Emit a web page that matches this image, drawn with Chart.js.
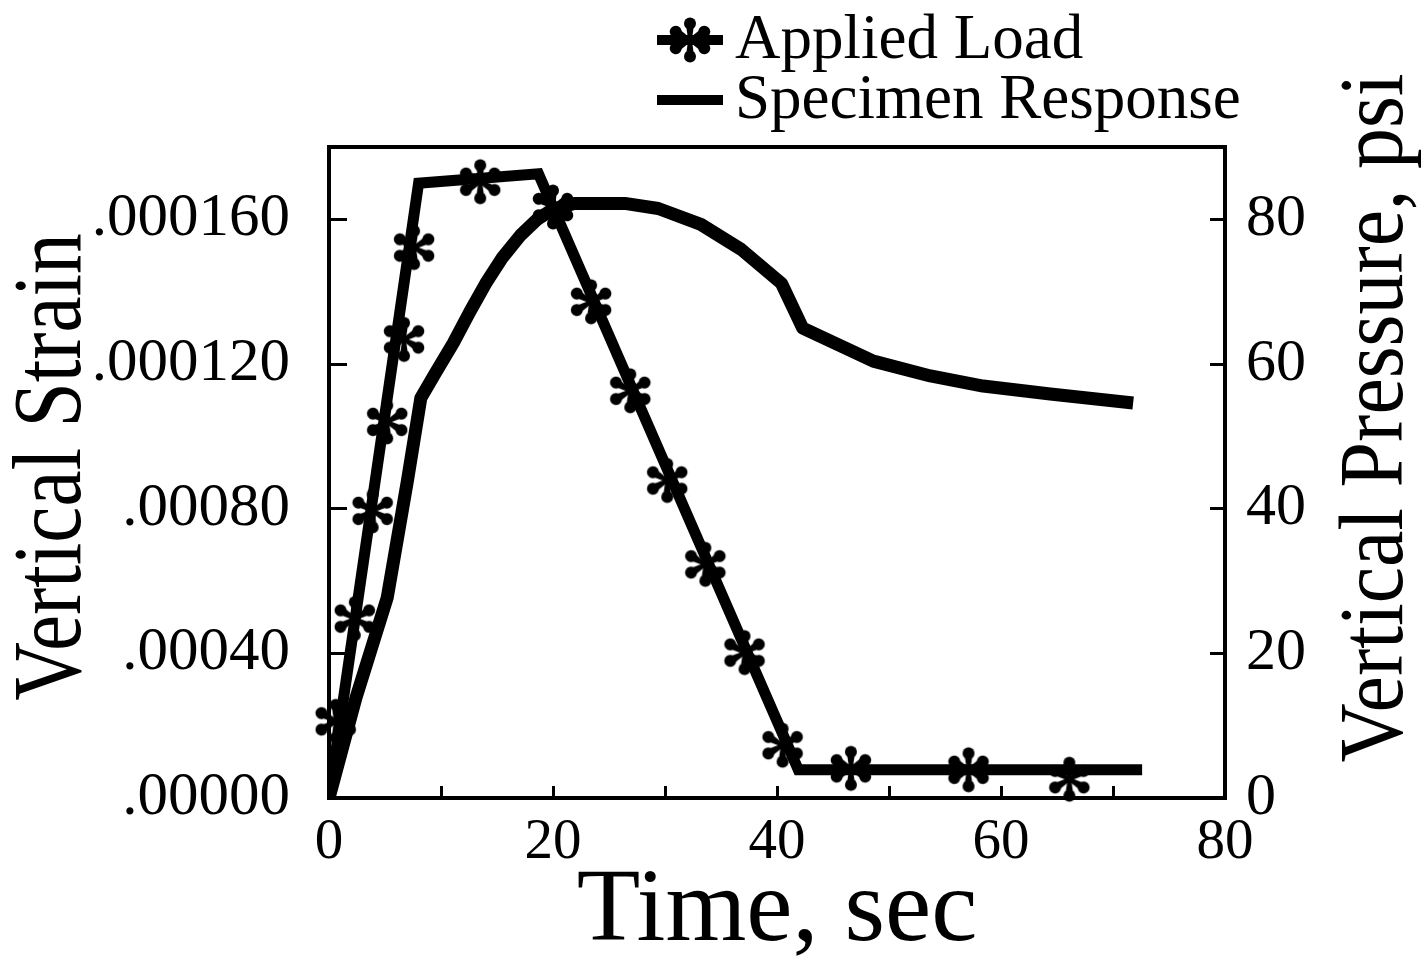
<!DOCTYPE html>
<html>
<head>
<meta charset="utf-8">
<title>Applied Load and Specimen Response</title>
<script src="https://cdn.jsdelivr.net/npm/chart.js@4.4.1/dist/chart.umd.min.js"></script>
<style>
  html, body { margin: 0; padding: 0; background: #fff; }
  canvas { display: block; }
</style>
</head>
<body>
<canvas id="strain-chart" width="1424" height="965"></canvas>
<script>
"use strict";

// Applied load pulse, psi (corners of the trace)
var loadTime = [0, 8.0, 18.7, 41.9, 72.6];
var loadPressure = [0, 85.0, 86.3, 3.9, 3.9];

// Applied load, plotted symbols
var markTime = [0.6, 2.3, 3.9, 5.2, 6.7, 7.6, 13.5, 20.0, 23.4, 26.9, 30.2, 33.6, 37.1, 40.5, 46.6, 57.1, 66.1];
var markPressure = [10.6, 24.8, 39.7, 52.0, 63.4, 76.1, 85.2, 81.7, 68.6, 56.3, 43.9, 32.3, 20.1, 7.3, 4.1, 3.9, 2.6];

// Specimen response, vertical strain
var strainTime = [0, 2.4, 5.2, 7.0, 8.2, 9.5, 11.1, 12.6, 14.0, 15.5, 17.1, 18.6, 20.0, 21.9,
    26.4, 29.4, 33.2, 36.8, 40.4, 42.3, 48.6, 53.7, 58.4, 64.4, 71.8];
var strainValue = [0, 0.0000276, 0.0000554, 0.0000877, 0.0001106, 0.0001175, 0.0001258, 0.0001346, 0.0001423,
    0.0001495, 0.0001556, 0.0001600, 0.0001628, 0.0001644,
    0.0001644, 0.0001630, 0.0001586, 0.0001517, 0.0001423, 0.0001299, 0.0001208, 0.0001167, 0.0001139, 0.0001117, 0.0001092];

// Tick labels (every other tick is labelled)
var timeTickLabels = ["0", "20", "40", "60", "80"];
var strainTickLabels = [".00000", ".00040", ".00080", ".000120", ".000160"];
var pressureTickLabels = ["0", "20", "40", "60", "80"];

var SERIF = "'Liberation Serif', 'Times New Roman', serif";

function toPoints(xs, ys) {
    return xs.map(function (x, i) { return {x: x, y: ys[i]}; });
}

// Six-petal asterisk used for the load symbols: thin stems, round tips
function makeAsterisk(size) {
    var c = document.createElement('canvas');
    c.width = size;
    c.height = size;
    var g = c.getContext('2d');
    var r = size / 2;
    var d = r * 0.66, rr = r * 0.24;
    g.translate(r, r);
    g.fillStyle = '#000';
    for (var k = 0; k < 6; k++) {
        g.save();
        g.rotate(k * Math.PI / 3);
        g.beginPath();
        g.moveTo(-1.8, 0);
        g.lineTo(-rr * 0.7, -d);
        g.lineTo(rr * 0.7, -d);
        g.lineTo(1.8, 0);
        g.closePath();
        g.fill();
        g.beginPath();
        g.arc(0, -d, rr, 0, Math.PI * 2);
        g.fill();
        g.restore();
    }
    g.beginPath();
    g.arc(0, 0, 3.5, 0, Math.PI * 2);
    g.fill();
    return c;
}

var asterisk = makeAsterisk(50);

// Stepped tick label lookup: label on even steps, bare tick mark otherwise
function everyOther(labels, step) {
    return function (value) {
        var i = Math.round(value / step);
        if (i % 2 !== 0) return '';
        return labels[i / 2] !== undefined ? labels[i / 2] : '';
    };
}

function fixWidth(w) {
    return function (scale) { scale.width = w; };
}
function fixHeight(h) {
    return function (scale) { scale.height = h; };
}

// Rotated axis titles, read bottom to top, plus the two-row key
var decorations = {
    id: 'decorations',
    afterDraw: function (chart, args, opts) {
        var ctx = chart.ctx;
        ctx.save();
        ctx.fillStyle = '#000';
        ctx.strokeStyle = '#000';

        opts.sideTitles.forEach(function (t) {
            ctx.save();
            ctx.translate(t.x, t.y);
            ctx.rotate(-Math.PI / 2);
            ctx.scale(t.squeeze, 1);
            ctx.font = t.size + 'px ' + SERIF;
            ctx.textAlign = 'center';
            ctx.textBaseline = 'alphabetic';
            ctx.fillText(t.text, 0, 0);
            ctx.restore();
        });

        ctx.font = opts.keyFont + 'px ' + SERIF;
        ctx.textAlign = 'left';
        ctx.textBaseline = 'alphabetic';
        opts.keys.forEach(function (k, i) {
            var ds = chart.data.datasets[k.dataset];
            var y = opts.keyTop + i * opts.keyRow;
            ctx.lineWidth = 10;
            ctx.lineCap = 'butt';
            ctx.beginPath();
            ctx.moveTo(opts.keyLeft, y);
            ctx.lineTo(opts.keyLeft + opts.keyLine, y);
            ctx.stroke();
            if (k.symbol) {
                ctx.drawImage(k.symbol, opts.keyLeft + opts.keyLine / 2 - k.symbol.width / 2, y - k.symbol.height / 2);
            }
            ctx.fillText(ds.label, opts.keyLeft + opts.keyLine + opts.keyGap, y + opts.keyBaseline);
        });
        ctx.restore();
    }
};

var ctx = document.getElementById('strain-chart').getContext('2d');
var chart = new Chart(ctx, {
    type: 'scatter',
    data: {
        datasets: [{
            label: 'Applied Load',
            data: toPoints(markTime, markPressure),
            yAxisID: 'y1',
            showLine: false,
            pointStyle: asterisk,
            pointRadius: 25,
            clip: false
        }, {
            label: 'Applied Load',
            data: toPoints(loadTime, loadPressure),
            yAxisID: 'y1',
            showLine: true,
            borderColor: '#000',
            borderWidth: 11,
            borderJoinStyle: 'miter',
            pointRadius: 0,
            tension: 0
        }, {
            label: 'Specimen Response',
            data: toPoints(strainTime, strainValue),
            yAxisID: 'y',
            showLine: true,
            borderColor: '#000',
            borderWidth: 13,
            borderJoinStyle: 'round',
            pointRadius: 0,
            tension: 0
        }]
    },
    options: {
        responsive: false,
        animation: false,
        events: [],
        layout: {padding: {top: 147, left: 0, right: 0, bottom: 0}},
        plugins: {
            legend: {display: false},
            tooltip: {enabled: false},
            decorations: {
                sideTitles: [
                    {text: 'Vertical Strain', x: 80, y: 467, size: 98, squeeze: 0.83},
                    {text: 'Vertical Pressure, psi', x: 1402, y: 418, size: 92, squeeze: 0.89}
                ],
                keys: [
                    {dataset: 1, symbol: asterisk},
                    {dataset: 2}
                ],
                keyFont: 63,
                keyLeft: 657,
                keyLine: 66,
                keyGap: 12,
                keyTop: 40,
                keyRow: 60,
                keyBaseline: 18
            }
        },
        scales: {
            x: {
                type: 'linear',
                position: 'bottom',
                min: 0,
                max: 80,
                afterFit: fixHeight(167),
                ticks: {
                    stepSize: 10,
                    padding: 23,
                    color: '#000',
                    font: {family: SERIF, size: 57},
                    maxRotation: 0,
                    callback: everyOther(timeTickLabels, 10)
                },
                grid: {drawOnChartArea: false, drawTicks: true, tickLength: -12, tickWidth: 3, tickColor: '#000'},
                border: {display: true, color: '#000', width: 4},
                title: {
                    display: true,
                    text: 'Time, sec',
                    color: '#000',
                    font: {family: SERIF, size: 104, lineHeight: 1},
                    padding: 0
                }
            },
            xTop: {
                type: 'linear',
                position: 'top',
                min: 0,
                max: 80,
                afterFit: fixHeight(0),
                ticks: {display: false},
                grid: {display: false},
                border: {display: true, color: '#000', width: 4}
            },
            y: {
                type: 'linear',
                position: 'left',
                min: 0,
                max: 0.00018,
                afterFit: fixWidth(329),
                ticks: {
                    stepSize: 0.00002,
                    padding: 57,
                    color: '#000',
                    font: {family: SERIF, size: 61},
                    callback: everyOther(strainTickLabels, 0.00002)
                },
                grid: {drawOnChartArea: false, drawTicks: true, tickLength: -18, tickWidth: 3, tickColor: '#000'},
                border: {display: true, color: '#000', width: 4}
            },
            y1: {
                type: 'linear',
                position: 'right',
                min: 0,
                max: 90,
                afterFit: fixWidth(199),
                ticks: {
                    stepSize: 10,
                    padding: 36,
                    color: '#000',
                    font: {family: SERIF, size: 60},
                    callback: everyOther(pressureTickLabels, 10)
                },
                grid: {drawOnChartArea: false, drawTicks: true, tickLength: -15, tickWidth: 3, tickColor: '#000'},
                border: {display: true, color: '#000', width: 4}
            }
        }
    },
    plugins: [decorations]
});
</script>
</body>
</html>
